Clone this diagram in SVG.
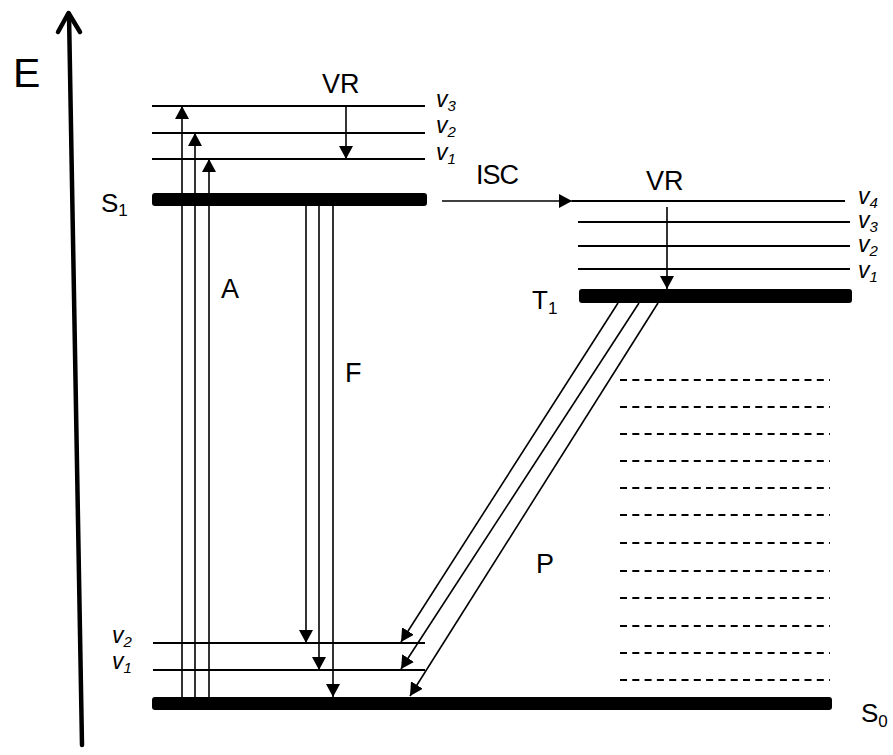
<svg xmlns="http://www.w3.org/2000/svg" width="893" height="755" viewBox="0 0 893 755">
<style>
text{font-family:"Liberation Sans",Arial,sans-serif;fill:#000}
.lbl{font-size:27px}
.st{font-size:26px}
.sub{font-size:17px}
.v{font-size:23px;font-style:italic}
.vs{font-size:15px;font-style:italic}
.lvl{stroke:#000;stroke-width:2;fill:none}
.bar{fill:#000}
.arr{stroke:#000;stroke-width:1.6;fill:none;marker-end:url(#ah)}
.dash{stroke:#000;stroke-width:2;stroke-dasharray:7 5.3;fill:none}
</style>
<defs>
<marker id="ah" viewBox="0 0 13 14" refX="13" refY="7" markerWidth="13" markerHeight="14" markerUnits="userSpaceOnUse" orient="auto">
<path d="M0,0 L13,7 L0,14 z" fill="#000"/>
</marker>
</defs>
<rect width="893" height="755" fill="#fff"/>

<g id="axis">
<line x1="82" y1="745" x2="69" y2="14" stroke="#000" stroke-width="4.5" stroke-linecap="round"/>
<polyline points="58,32 68.5,13 80,32" fill="none" stroke="#000" stroke-width="4.5" stroke-linecap="round" stroke-linejoin="round"/>
<text x="13" y="87" style="font-size:41px">E</text>
</g>

<g id="S1">
<line class="lvl" x1="152" y1="106" x2="425" y2="106"/>
<line class="lvl" x1="152" y1="133" x2="425" y2="133"/>
<line class="lvl" x1="152" y1="159" x2="425" y2="159"/>
<rect class="bar" x="152" y="193" width="275" height="13" rx="3"/>
<text class="st" x="101" y="212">S<tspan class="sub" dy="4">1</tspan></text>
<text class="v" x="436" y="107">v<tspan class="vs" dy="4">3</tspan></text>
<text class="v" x="436" y="133">v<tspan class="vs" dy="4">2</tspan></text>
<text class="v" x="436" y="160">v<tspan class="vs" dy="4">1</tspan></text>
</g>

<g id="T1">
<line class="lvl" x1="572" y1="201" x2="845" y2="201"/>
<line class="lvl" x1="578" y1="222" x2="850" y2="222"/>
<line class="lvl" x1="578" y1="246" x2="850" y2="246"/>
<line class="lvl" x1="578" y1="269" x2="850" y2="269"/>
<rect class="bar" x="579" y="289" width="273" height="14" rx="3"/>
<text class="st" x="532" y="309">T<tspan class="sub" dy="5">1</tspan></text>
<text class="v" x="858" y="204">v<tspan class="vs" dy="4">4</tspan></text>
<text class="v" x="858" y="228">v<tspan class="vs" dy="4">3</tspan></text>
<text class="v" x="858" y="252">v<tspan class="vs" dy="4">2</tspan></text>
<text class="v" x="858" y="278">v<tspan class="vs" dy="4">1</tspan></text>
</g>

<g id="S0">
<line class="lvl" x1="153" y1="643" x2="425" y2="643"/>
<line class="lvl" x1="153" y1="670" x2="425" y2="670"/>
<rect class="bar" x="152" y="697" width="680" height="13" rx="3"/>
<text class="st" x="861" y="722">S<tspan class="sub" dy="5">0</tspan></text>
<text class="v" x="112" y="643">v<tspan class="vs" dy="4">2</tspan></text>
<text class="v" x="112" y="669">v<tspan class="vs" dy="4">1</tspan></text>
</g>

<g id="dashed-levels">
<line class="dash" x1="620" y1="380" x2="830" y2="380"/>
<line class="dash" x1="620" y1="407" x2="830" y2="407"/>
<line class="dash" x1="620" y1="434" x2="830" y2="434"/>
<line class="dash" x1="620" y1="461" x2="830" y2="461"/>
<line class="dash" x1="620" y1="488" x2="830" y2="488"/>
<line class="dash" x1="620" y1="515" x2="830" y2="515"/>
<line class="dash" x1="620" y1="543" x2="830" y2="543"/>
<line class="dash" x1="620" y1="571" x2="830" y2="571"/>
<line class="dash" x1="620" y1="598" x2="830" y2="598"/>
<line class="dash" x1="620" y1="626" x2="830" y2="626"/>
<line class="dash" x1="620" y1="653" x2="830" y2="653"/>
<line class="dash" x1="620" y1="680" x2="830" y2="680"/>
</g>

<g id="connectors">
<g id="A">
<line class="arr" x1="182" y1="697" x2="182" y2="106"/>
<line class="arr" x1="195" y1="697" x2="195" y2="133"/>
<line class="arr" x1="209" y1="697" x2="209" y2="159"/>
<text class="lbl" x="221" y="298">A</text>
</g>
<g id="F">
<line class="arr" x1="306" y1="206" x2="306" y2="643"/>
<line class="arr" x1="319" y1="206" x2="319" y2="670"/>
<line class="arr" x1="333" y1="206" x2="333" y2="697"/>
<text class="lbl" x="345" y="382">F</text>
</g>
<g id="VR1">
<line class="arr" x1="346" y1="106" x2="346" y2="159"/>
<text class="lbl" x="322" y="93">VR</text>
</g>
<g id="ISC">
<line class="arr" x1="442" y1="201" x2="572" y2="201"/>
<text class="lbl" x="476" y="184" style="letter-spacing:-1px">ISC</text>
</g>
<g id="VR2">
<line class="arr" x1="667" y1="207" x2="667" y2="289"/>
<text class="lbl" x="646" y="190">VR</text>
</g>
<g id="P">
<line class="arr" x1="618" y1="303" x2="401" y2="642"/>
<line class="arr" x1="639" y1="303" x2="401" y2="669"/>
<line class="arr" x1="658" y1="303" x2="410" y2="696"/>
<text class="lbl" x="536" y="573">P</text>
</g>
</g>
</svg>
